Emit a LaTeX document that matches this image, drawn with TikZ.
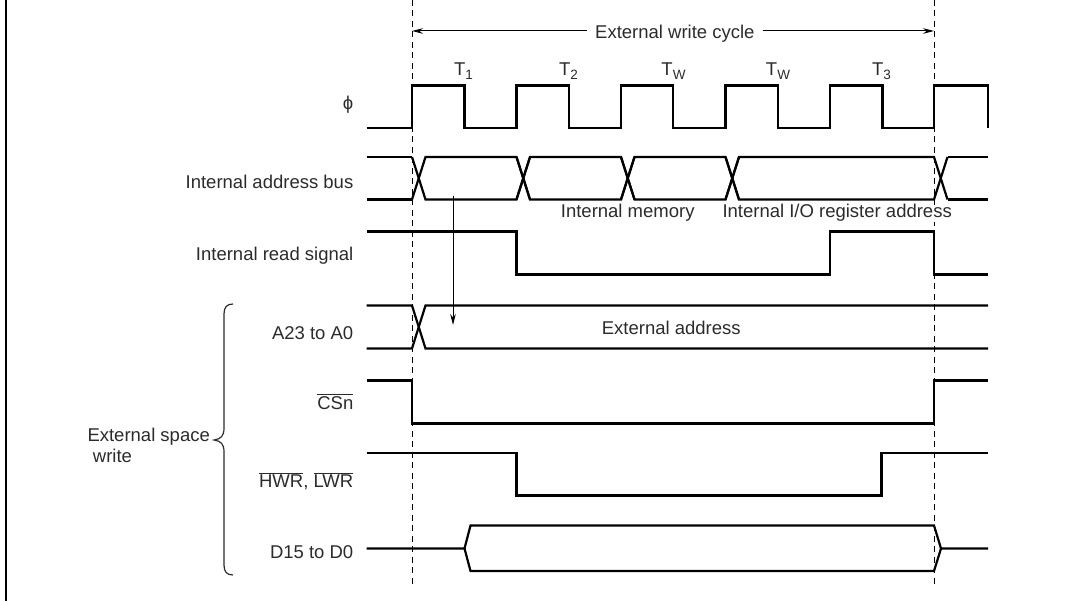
\documentclass[tikz,border=0pt]{standalone}
\usepackage{fontspec}
\setmainfont{Liberation Sans}
\usetikzlibrary{arrows.meta}
\definecolor{labelgray}{HTML}{2B2B2B}
\tikzset{
    signal/.style={black, line width=2.2pt, line join=miter},
    edgeline/.style={black, line width=1pt, dash pattern=on 6pt off 4.5pt},
    dimline/.style={black, line width=1pt, -{Stealth[length=11pt,width=5.5pt]}},
    siglabel/.style={anchor=base east, inner sep=0pt, text=labelgray, font=\fontsize{18.5}{20}\selectfont},
    freelabel/.style={anchor=base west, inner sep=0pt, text=labelgray, font=\fontsize{18.5}{20}\selectfont},
    statelabel/.style={anchor=base, inner sep=0pt, text=labelgray, font=\fontsize{18.5}{20}\selectfont}
}
\newcommand{\barred}[1]{$\overline{\mbox{#1}}$}
\newcommand{\statesub}[1]{\raisebox{-3.8pt}{\fontsize{13.5}{14}\selectfont #1}}
% upper and lower rail of a bus between two crossings
\newcommand{\busrun}[4]{
    \draw[signal] (#1,#3) -- (#1+13.5,#4) -- (#2,#4) -- (#2+13.5,#3);
    \draw[signal] (#1,#4) -- (#1+13.5,#3) -- (#2,#3) -- (#2+13.5,#4);
}
\begin{document}
\begin{tikzpicture}[x=1pt,y=-1pt]
        \useasboundingbox (0,0) rectangle (1068,601);
        \draw[black, line width=2pt] (6,0) -- (6,601);
        % cycle edges
        \draw[edgeline] (412,0) -- (412,584);
        \draw[edgeline] (934,0) -- (934,584);
        \node[freelabel] (cycle) at (595,38.3) {External write cycle};
        \coordinate (cyclestart) at (412,31);
        \coordinate (cycleend) at (934,31);
        \coordinate (cycleleft) at (587,31);
        \coordinate (cycleright) at (762.5,31);
        \draw[dimline] (cycleleft) -- (cyclestart);
        \draw[dimline] (cycleright) -- (cycleend);
        % clock
        \foreach \x/\t in {463.5/1,568.5/2,673.5/W,778/W,881.5/3}
        \node[statelabel] (state\t\x) at (\x,75.3) {T\statesub{\t}};
        \node[siglabel] (phi) at (353.5,109.5) {ϕ};
        \draw[signal] (366.5,128) -- (412,128) -- (412,85.5) -- (464.5,85.5) -- (464.5,128) --
        (516.5,128) -- (516.5,85.5) -- (569,85.5) -- (569,128) --
        (621,128) -- (621,85.5) -- (673,85.5) -- (673,128) --
        (725.5,128) -- (725.5,85.5) -- (778,85.5) -- (778,128) --
        (830,128) -- (830,85.5) -- (882.5,85.5) -- (882.5,128) --
        (934,128) -- (934,85.5) -- (988,85.5) -- (988,128);
        % internal bus
        \node[siglabel] (busname) at (353.5,188.3) {Internal address bus};
        \draw[signal] (366.5,157) -- (412,157);
        \draw[signal] (366.5,199.5) -- (412,199.5);
        \busrun{412}{516.5}{157}{199.5}
        \busrun{516.5}{621}{157}{199.5}
        \busrun{621}{725.5}{157}{199.5}
        \busrun{725.5}{934}{157}{199.5}
        \draw[signal] (947.5,157) -- (988,157);
        \draw[signal] (947.5,199.5) -- (988,199.5);
        \node[freelabel] (memname) at (560.7,218) {Internal memory};
        \node[freelabel, fill=white] (ioname) at (722.3,218) {Internal I/O register address};
        % read signal
        \node[siglabel] (readname) at (353.5,260.3) {Internal read signal};
        \draw[signal] (366.5,231.5) -- (516.5,231.5) -- (516.5,274.5) -- (830,274.5) --
        (830,231.5) -- (934,231.5) -- (934,274.5) -- (988,274.5);
        % external address
        \node[siglabel] (addrname) at (353.5,339.3) {A23 to A0};
        \draw[signal] (366.5,305.5) -- (412,305.5) -- (425.5,348.5) -- (988,348.5);
        \draw[signal] (366.5,348.5) -- (412,348.5) -- (425.5,305.5) -- (988,305.5);
        \node[freelabel] (extaddr) at (601.7,335) {External address};
        % chip select
        \node[siglabel] (csname) at (353.5,409) {\barred{CSn}};
        \draw[signal] (366.5,380.5) -- (412,380.5) -- (412,423.5) -- (934,423.5) -- (934,380.5) -- (988,380.5);
        % write strobes
        \node[siglabel] (wrname) at (353.5,487.3) {\barred{HWR}, \barred{LWR}};
        \draw[signal] (366.5,453) -- (516.5,453) -- (516.5,495.5) -- (881.5,495.5) -- (881.5,453) -- (988,453);
        % data
        \node[siglabel] (dataname) at (353.5,558.3) {D15 to D0};
        \draw[signal] (366.5,548.5) -- (464.5,548.5) -- (470.5,525.5) -- (934,525.5) -- (941,548.5) -- (988,548.5);
        \draw[signal] (464.5,548.5) -- (470.5,571) -- (934,571) -- (941,548.5);
        % latency arrow
        \coordinate (latstart) at (453,196);
        \coordinate (latend) at (453,325);
        \draw[dimline] (latstart) -- (latend);
        % brace
        \draw[labelgray, line width=1.2pt] (233,304) .. controls (227,304) and (224,307) .. (224,314) -- (224,428)
        .. controls (224,436) and (221,439) .. (214,440) .. controls (221,441) and (224,444) .. (224,452) -- (224,565)
        .. controls (224,572) and (227,575) .. (233,575);
        \node[freelabel] (groupname) at (87.3,441) {External space};
        \node[freelabel] (groupname2) at (92.7,462.7) {write};
    \end{tikzpicture}
\end{document}
